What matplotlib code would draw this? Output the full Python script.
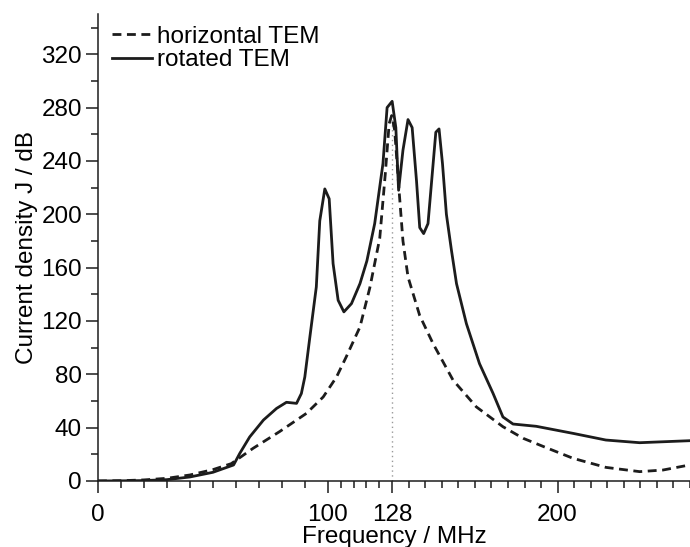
import numpy as np
import matplotlib.pyplot as plt

plt.rcParams['font.family'] = ['Liberation Sans', 'DejaVu Sans']

# horizontal TEM (dashed)
f_h = [0, 10, 20, 30, 40, 50, 58, 67.5, 79, 90.7, 98, 103.8, 108, 114, 118.3, 122.6,
       125.0, 126.7, 127.8, 129.1, 131, 132.7, 134.9, 140, 145.8, 154.5, 164.6,
       176.2, 185, 195, 206.7, 221, 235.7, 245.8, 257.4]
j_h = [0, 0.2, 0.8, 2, 4.5, 8.5, 13, 24.5, 37, 50.7, 63, 78, 93, 115.5, 145, 182,
       230, 268, 274, 263, 218, 180, 153, 124, 103, 75.6, 55.6,
       40.7, 32, 25, 17, 10.2, 7, 8.2, 12]

# rotated TEM (solid)
f_r = [0, 10, 20, 30, 40, 50, 59, 61.7, 66, 72, 77.7, 82, 86.4, 88.5, 90, 92.2, 95,
       96.5, 98.7, 100.6, 102.3, 104.5, 107, 110.3, 114, 117, 120.4, 124, 125.8,
       128, 129.6, 130.8, 132.7, 134.9, 136.7, 138.6, 140, 141.7, 143.6, 147,
       148.4, 149.9, 151.6, 153.8, 156, 160.3, 166, 171.9, 176.2, 180.6, 190.7,
       206.7, 221, 235.7, 257.4]
j_r = [0, 0.1, 0.3, 1, 3, 6.5, 12, 20.7, 33, 45.7, 54.4, 59, 58.2, 65.6, 78, 108, 145.5,
       195, 219, 211.6, 163, 135.5, 126.8, 133, 148, 165, 193, 238, 280,
       284.7, 265, 218, 248, 271, 265, 225, 190, 185.5, 193, 261.5,
       264, 238, 200, 173, 148, 118, 88, 65.7, 48, 42.7, 41,
       35.7, 30.7, 28.7, 30.2]

x_major = [0, 100, 128, 200]
y_major = np.arange(0, 321, 40)
y_minor = np.arange(20, 341, 40)
x_minor = list(np.arange(10, 100, 10)) + list(np.linspace(100, 128, 6)[1:-1]) + \
    list(np.linspace(128, 200, 11)[1:-1]) + list(200 + 7.2 * np.arange(1, 9))

fig = plt.figure(figsize=(6.9, 5.47), dpi=100)
ax = fig.add_axes([0.142, 0.1207, 0.858, 0.8533])

col = '#1c1c1c'
fs = 17.5
ax.plot([128, 128], [0, 272], color='#999999', lw=1.0, ls=(0, (1, 2.5)))
ax.plot(f_h, j_h, color=col, lw=2.0, ls=(0, (3.2, 2.0)), label='horizontal TEM')
ax.plot(f_r, j_r, color=col, lw=2.0, label='rotated TEM')

ax.set_xlim(0, 257.4)
ax.set_ylim(0, 350)
ax.set_xticks(x_major)
ax.set_xticks(x_minor, minor=True)
ax.set_yticks(y_major)
ax.set_yticks(y_minor, minor=True)

for s in ['top', 'right']:
    ax.spines[s].set_visible(False)
for s in ['left', 'bottom']:
    ax.spines[s].set_linewidth(1.1)
    ax.spines[s].set_color(col)

ax.tick_params(which='major', length=8.5, width=1.1, color=col, labelsize=fs, pad=3)
ax.tick_params(which='minor', length=5, width=1.1, color=col)
ax.tick_params(axis='x', which='major', pad=8)

ax.set_xlabel('Frequency / MHz', fontsize=fs, labelpad=0)
ax.set_ylabel('Current density J / dB', fontsize=fs, labelpad=2)

ax.legend(loc='upper left', bbox_to_anchor=(0.024, 0.975), frameon=False, fontsize=fs,
          handlelength=1.65, handletextpad=0.2, labelspacing=0.05,
          borderpad=0, borderaxespad=0)

fig.savefig('out.png', dpi=100)
